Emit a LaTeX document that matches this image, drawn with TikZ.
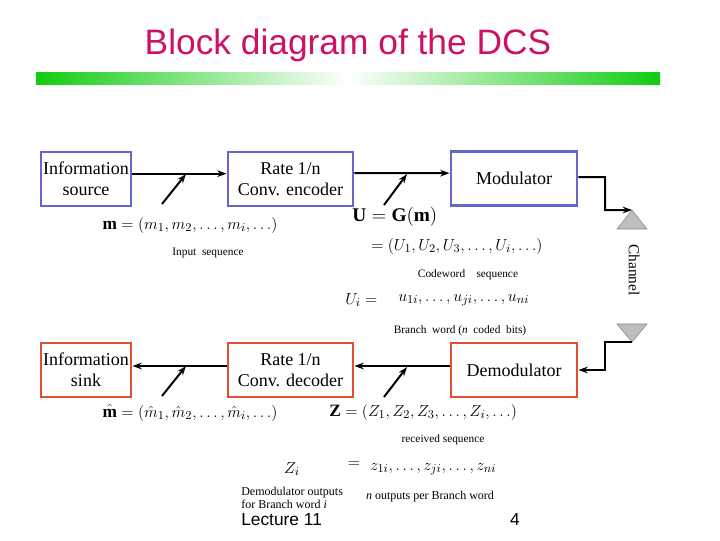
\documentclass[tikz,border=0pt]{standalone}
\usepackage{fontspec}
\setmainfont{Liberation Serif}
\newfontfamily\titlefont{Liberation Sans}
\usetikzlibrary{arrows.meta}
\definecolor{boxblue}{RGB}{102,102,204}
\definecolor{boxred}{RGB}{224,80,45}
\definecolor{titlepink}{RGB}{204,17,102}
\definecolor{bargreen}{RGB}{17,204,17}
\definecolor{trigray}{RGB}{190,190,190}
\tikzset{
  blockb/.style={draw=boxblue, line width=2.2pt, align=center, inner sep=0pt,
    font=\fontsize{13.5}{15.5}\selectfont},
  blockr/.style={draw=boxred, line width=2.2pt, align=center, inner sep=0pt,
    font=\fontsize{13.5}{15.5}\selectfont},
  conn/.style={line width=1.5pt, -{Stealth[length=7pt,width=5pt]}},
  slash/.style={line width=1.5pt, -{Stealth[length=7pt,width=5pt]}},
  mathlbl/.style={inner sep=0pt, font=\fontsize{13}{15}\selectfont},
  small/.style={inner sep=0pt, font=\fontsize{8.5}{9.5}\selectfont, align=left},
  antenna/.style={fill=trigray, draw=trigray!70!black, line width=0.4pt},
}
\begin{document}
\begin{tikzpicture}[x=0.75pt,y=-0.75pt]
\useasboundingbox (0,0) rectangle (720,540);
% title
\node[inner sep=0pt, text=titlepink, font=\titlefont\fontsize{26.5}{29}\selectfont] (title) at (348,45) {Block diagram of the DCS};
% green bar
\shade[left color=bargreen, right color=bargreen, middle color=white] (36,72) rectangle (660,84);
% blocks
\node[blockb, minimum width=67.5pt, minimum height=40.5pt] (src) at (86,179) {Information\\source};
\node[blockb, minimum width=93.75pt, minimum height=40.5pt] (enc) at (290.5,179) {Rate 1/n\\Conv. encoder};
\node[blockb, minimum width=94.5pt, minimum height=41pt] (mod) at (514,178.5) {Modulator};
\node[blockr, minimum width=67.5pt, minimum height=40.5pt] (sink) at (86,370) {Information\\sink};
\node[blockr, minimum width=93.75pt, minimum height=40.5pt] (dec) at (290.5,370) {Rate 1/n\\Conv. decoder};
\node[blockr, minimum width=94.5pt, minimum height=40.5pt] (dem) at (514,370) {Demodulator};
% antennas
\coordinate (txtip) at (632,210);
\coordinate (rxtip) at (632,342);
\fill[antenna] (txtip) -- (617,229) -- (647,229) -- cycle;
\fill[antenna] (rxtip) -- (617,324) -- (647,324) -- cycle;
\node[rotate=-90, inner sep=0pt, font=\fontsize{11.5}{13}\selectfont] (chan) at (634,270) {Channel};
% connectors
\draw[conn] ([yshift=4pt]src.east) -- ([yshift=4pt]enc.west);
\draw[conn] ([yshift=4.5pt]enc.east) -- ([yshift=4pt]mod.west);
\coordinate (txbend) at (605,177);
\draw[conn] ([yshift=1pt]mod.east) -- (txbend) |- (txtip);
\coordinate (rxbend) at (605,342);
\draw[conn] (rxtip) -- (rxbend) |- (dem.east);
\draw[conn] ([yshift=3pt]dem.west) -- ([yshift=3pt]dec.east);
\draw[conn] ([yshift=3pt]dec.west) -- ([yshift=3pt]sink.east);
% slashes
\coordinate (s1a) at (162,204); \coordinate (s1b) at (186,174);
\coordinate (s2a) at (384,205); \coordinate (s2b) at (407,174);
\coordinate (s3a) at (162,396); \coordinate (s3b) at (186,366);
\coordinate (s4a) at (384,397); \coordinate (s4b) at (407,367);
\draw[slash] (s1a) -- (s1b);
\draw[slash] (s2a) -- (s2b);
\draw[slash] (s3a) -- (s3b);
\draw[slash] (s4a) -- (s4b);
% labels upper
\node[mathlbl] (meq) at (190,225) {$\mathbf{m}=(m_1,m_2,\ldots,m_i,\ldots)$};
\node[small] (insq) at (208,253) {Input\ \ sequence};
\node[mathlbl, anchor=west, font=\fontsize{14.5}{16}\selectfont] (ueq) at (352,217) {$\mathbf{U}=\mathbf{G}(\mathbf{m})$};
\node[mathlbl, anchor=west] (useq) at (371,246) {$=(U_1,U_2,U_3,\ldots,U_i,\ldots)$};
\node[small] (cwsq) at (468,275) {Codeword\quad sequence};
\node[mathlbl, anchor=west] (ui) at (345,300) {$U_i=$};
\node[mathlbl, anchor=west] (uilist) at (398,300) {$u_{1i},\ldots,u_{ji},\ldots,u_{ni}$};
\node[small] (bw) at (460,331) {Branch\ \ word (\textit{n}\ \ coded\ \ bits)};
% labels lower
\node[mathlbl] (mheq) at (190,413) {$\hat{\mathbf{m}}=(\hat{m}_1,\hat{m}_2,\ldots,\hat{m}_i,\ldots)$};
\node[mathlbl, anchor=west] (zeq) at (329,412) {$\mathbf{Z}=(Z_1,Z_2,Z_3,\ldots,Z_i,\ldots)$};
\node[small] (rsq) at (443,440) {received sequence};
\node[mathlbl] (zi) at (292,469) {$Z_i$};
\node[mathlbl] (zieq) at (354,465) {$=$};
\node[mathlbl, anchor=west] (zilist) at (370,469) {$z_{1i},\ldots,z_{ji},\ldots,z_{ni}$};
\node[small, anchor=north west, font=\fontsize{9}{10}\selectfont] (dout) at (241,487) {Demodulator outputs\\for Branch word \textit{i}};
\node[small, font=\fontsize{9}{10}\selectfont] (nout) at (430,497) {\textit{n} outputs per Branch word};
% footer
\node[inner sep=0pt, anchor=west, font=\titlefont\fontsize{13}{15}\selectfont] (lect) at (241,520) {Lecture 11};
\node[inner sep=0pt, font=\titlefont\fontsize{13}{15}\selectfont] (pg) at (515,520) {4};
\end{tikzpicture}
\end{document}
